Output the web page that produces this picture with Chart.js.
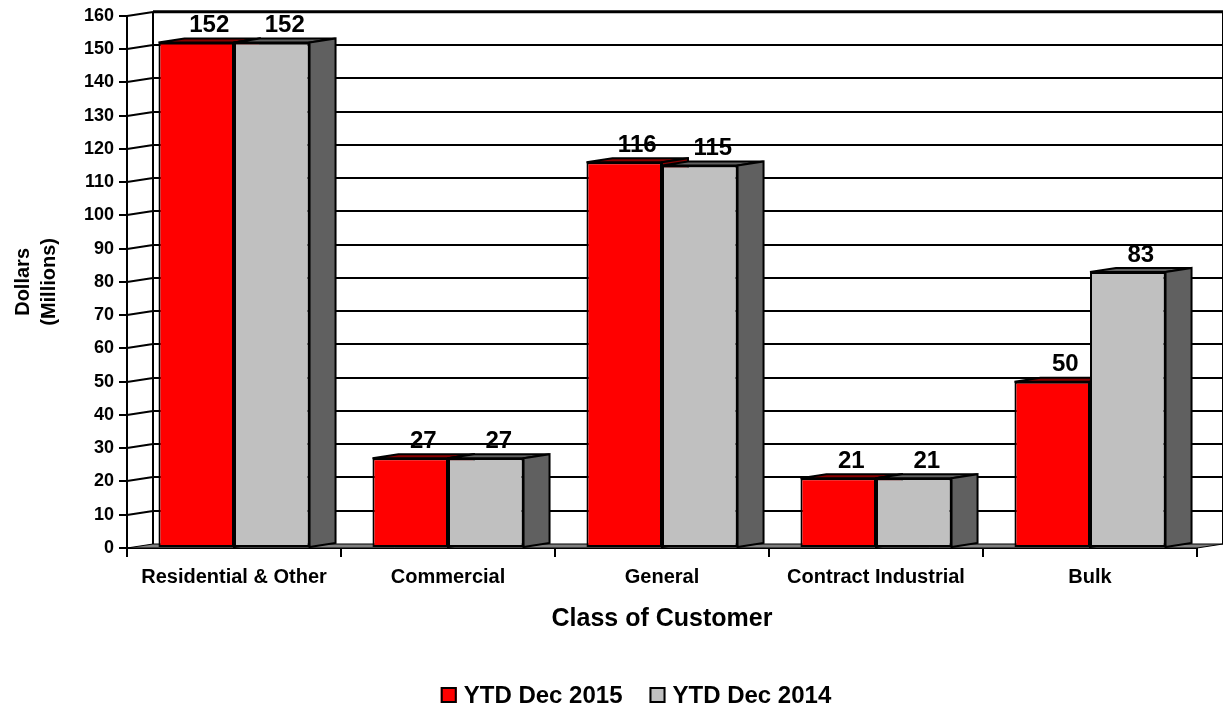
<!DOCTYPE html>
<html>
<head>
<meta charset="utf-8">
<title>Class of Customer</title>
<script src="https://cdn.jsdelivr.net/npm/chart.js@4"></script>
<style>
  html, body { margin: 0; padding: 0; background: #fff; }
  canvas { display: block; }
</style>
</head>
<body>
<canvas id="chart" width="1223" height="713"></canvas>
<script>
// chart data
const categories = ['Residential & Other', 'Commercial', 'General', 'Contract Industrial', 'Bulk'];
const seriesNames = ['YTD Dec 2015', 'YTD Dec 2014'];
const ytd2015 = [152, 27, 116, 21, 50];
const ytd2014 = [152, 27, 115, 21, 83];
const yMin = 0;
const yMax = 160;
const yStep = 10;

// look of the fake 3d
const depth = { dx: 26, dy: -4 };
const frontColors = ['#FF0000', '#C0C0C0'];
const topColors = ['#8B0000', '#606060'];
const sideColors = ['#8B0000', '#606060'];
const FONT = '"Liberation Sans", Arial, Helvetica, sans-serif';

Chart.defaults.font.family = FONT;
Chart.defaults.color = '#000';

function poly(ctx, pts, fill) {
  ctx.beginPath();
  ctx.moveTo(pts[0][0], pts[0][1]);
  for (let i = 1; i < pts.length; i++) ctx.lineTo(pts[i][0], pts[i][1]);
  ctx.closePath();
  ctx.fillStyle = fill;
  ctx.fill();
  ctx.stroke();
}

// walls, floor and the top / side faces of the bars
const walls3d = {
  id: 'walls3d',
  beforeDatasetsDraw(chart) {
    const { ctx, chartArea: a, scales: { y } } = chart;
    const { dx, dy } = depth;
    ctx.save();
    ctx.strokeStyle = '#000';
    ctx.lineWidth = 1;
    // floor
    poly(ctx, [[a.left, a.bottom], [a.right, a.bottom], [a.right + dx, a.bottom + dy], [a.left + dx, a.bottom + dy]], '#808080');

    ctx.lineWidth = 2;
    ctx.beginPath();
    for (let v = yMin + yStep; v <= yMax; v += yStep) {
      const py = Math.round(y.getPixelForValue(v));
      // side wall
      ctx.moveTo(a.left, py);
      ctx.lineTo(a.left + dx, py + dy);
      // back wall
      if (v < yMax) {
        ctx.moveTo(a.left + dx, py + dy);
        ctx.lineTo(a.right + dx, py + dy);
      }
    }
    ctx.moveTo(a.left + dx, a.top + dy);
    ctx.lineTo(a.left + dx, a.bottom + dy);
    ctx.moveTo(a.right + dx, a.top + dy);
    ctx.lineTo(a.right + dx, a.bottom + dy);
    ctx.stroke();
    // top edge of back wall is heavier
    ctx.lineWidth = 3;
    ctx.beginPath();
    ctx.moveTo(a.left + dx, a.top + dy);
    ctx.lineTo(a.right + dx + 1, a.top + dy);
    ctx.stroke();

    // bar tops and sides
    ctx.lineWidth = 2;
    ctx.lineJoin = 'miter';
    chart.data.datasets.forEach((ds, di) => {
      chart.getDatasetMeta(di).data.forEach(bar => {
        const p = bar.getProps(['x', 'y', 'base', 'width'], true);
        const l = p.x - p.width / 2, r = p.x + p.width / 2;
        poly(ctx, [[l, p.y], [r, p.y], [r + dx, p.y + dy], [l + dx, p.y + dy]], topColors[di]);
        poly(ctx, [[r, p.y], [r + dx, p.y + dy], [r + dx, p.base + dy], [r, p.base]], sideColors[di]);
      });
    });
    ctx.restore();
  },
  afterDatasetsDraw(chart) {
    const { ctx } = chart;
    const { dx, dy } = depth;
    ctx.save();
    ctx.font = 'bold 24px ' + FONT;
    ctx.fillStyle = '#000';
    ctx.textAlign = 'center';
    ctx.textBaseline = 'bottom';
    chart.data.datasets.forEach((ds, di) => {
      chart.getDatasetMeta(di).data.forEach((bar, i) => {
        const p = bar.getProps(['x', 'y'], true);
        ctx.fillText(String(ds.data[i]), p.x + dx / 2, p.y + dy - 1);
      });
    });
    ctx.restore();
  },
  afterDraw(chart) {
    // legend
    const { ctx } = chart;
    ctx.save();
    ctx.font = 'bold 24px ' + FONT;
    ctx.textBaseline = 'middle';
    ctx.textAlign = 'left';
    const box = 16, gap = 7, itemGap = 27, cy = 695, cx = 636;
    const widths = seriesNames.map(s => ctx.measureText(s).width);
    let total = 0;
    widths.forEach((w, i) => { total += box + gap + w + (i ? itemGap : 0); });
    let x = cx - total / 2;
    seriesNames.forEach((s, i) => {
      ctx.fillStyle = frontColors[i];
      ctx.fillRect(x, cy - box / 2, box, box);
      ctx.strokeStyle = '#000';
      ctx.lineWidth = 2;
      ctx.strokeRect(x + 1, cy - box / 2 + 1, box - 2, box - 2);
      ctx.fillStyle = '#000';
      ctx.fillText(s, x + box + gap, cy + 1);
      x += box + gap + widths[i] + itemGap;
    });
    ctx.restore();
  }
};

new Chart(document.getElementById('chart'), {
  type: 'bar',
  data: {
    labels: categories,
    datasets: [
      { label: seriesNames[0], data: ytd2015, backgroundColor: frontColors[0] },
      { label: seriesNames[1], data: ytd2014, backgroundColor: frontColors[1] }
    ]
  },
  options: {
    responsive: false,
    animation: false,
    devicePixelRatio: 1,
    layout: { padding: { top: 14, right: 26, bottom: 0, left: 0 } },
    datasets: {
      bar: {
        borderColor: '#000',
        borderWidth: 2,
        borderSkipped: false,
        categoryPercentage: 0.706,
        barPercentage: 1.0
      }
    },
    plugins: {
      legend: { display: false },
      tooltip: { enabled: false }
    },
    scales: {
      x: {
        afterFit(scale) { scale.height = 165; },
        grid: { offset: true, drawOnChartArea: false, drawTicks: true, tickLength: 9, color: '#000', lineWidth: 2 },
        border: { display: true, color: '#000', width: 2 },
        ticks: { font: { size: 20, weight: 'bold' }, padding: 8, maxRotation: 0, autoSkip: false },
        title: {
          display: true,
          text: 'Class of Customer',
          font: { size: 25, weight: 'bold' },
          padding: { top: 4, bottom: 79 }
        }
      },
      y: {
        min: yMin,
        max: yMax,
        afterFit(scale) { scale.width = 127; },
        grid: { drawOnChartArea: false, drawTicks: true, tickLength: 8, color: '#000', lineWidth: 2 },
        border: { display: true, color: '#000', width: 2 },
        ticks: { stepSize: yStep, font: { size: 18, weight: 'bold' }, padding: 5 },
        title: {
          display: true,
          text: ['Dollars', '(Millions)'],
          font: { size: 20, weight: 'bold', lineHeight: 1.3 },
          padding: { top: 10, bottom: 0 }
        }
      }
    }
  },
  plugins: [walls3d]
});
</script>
</body>
</html>
